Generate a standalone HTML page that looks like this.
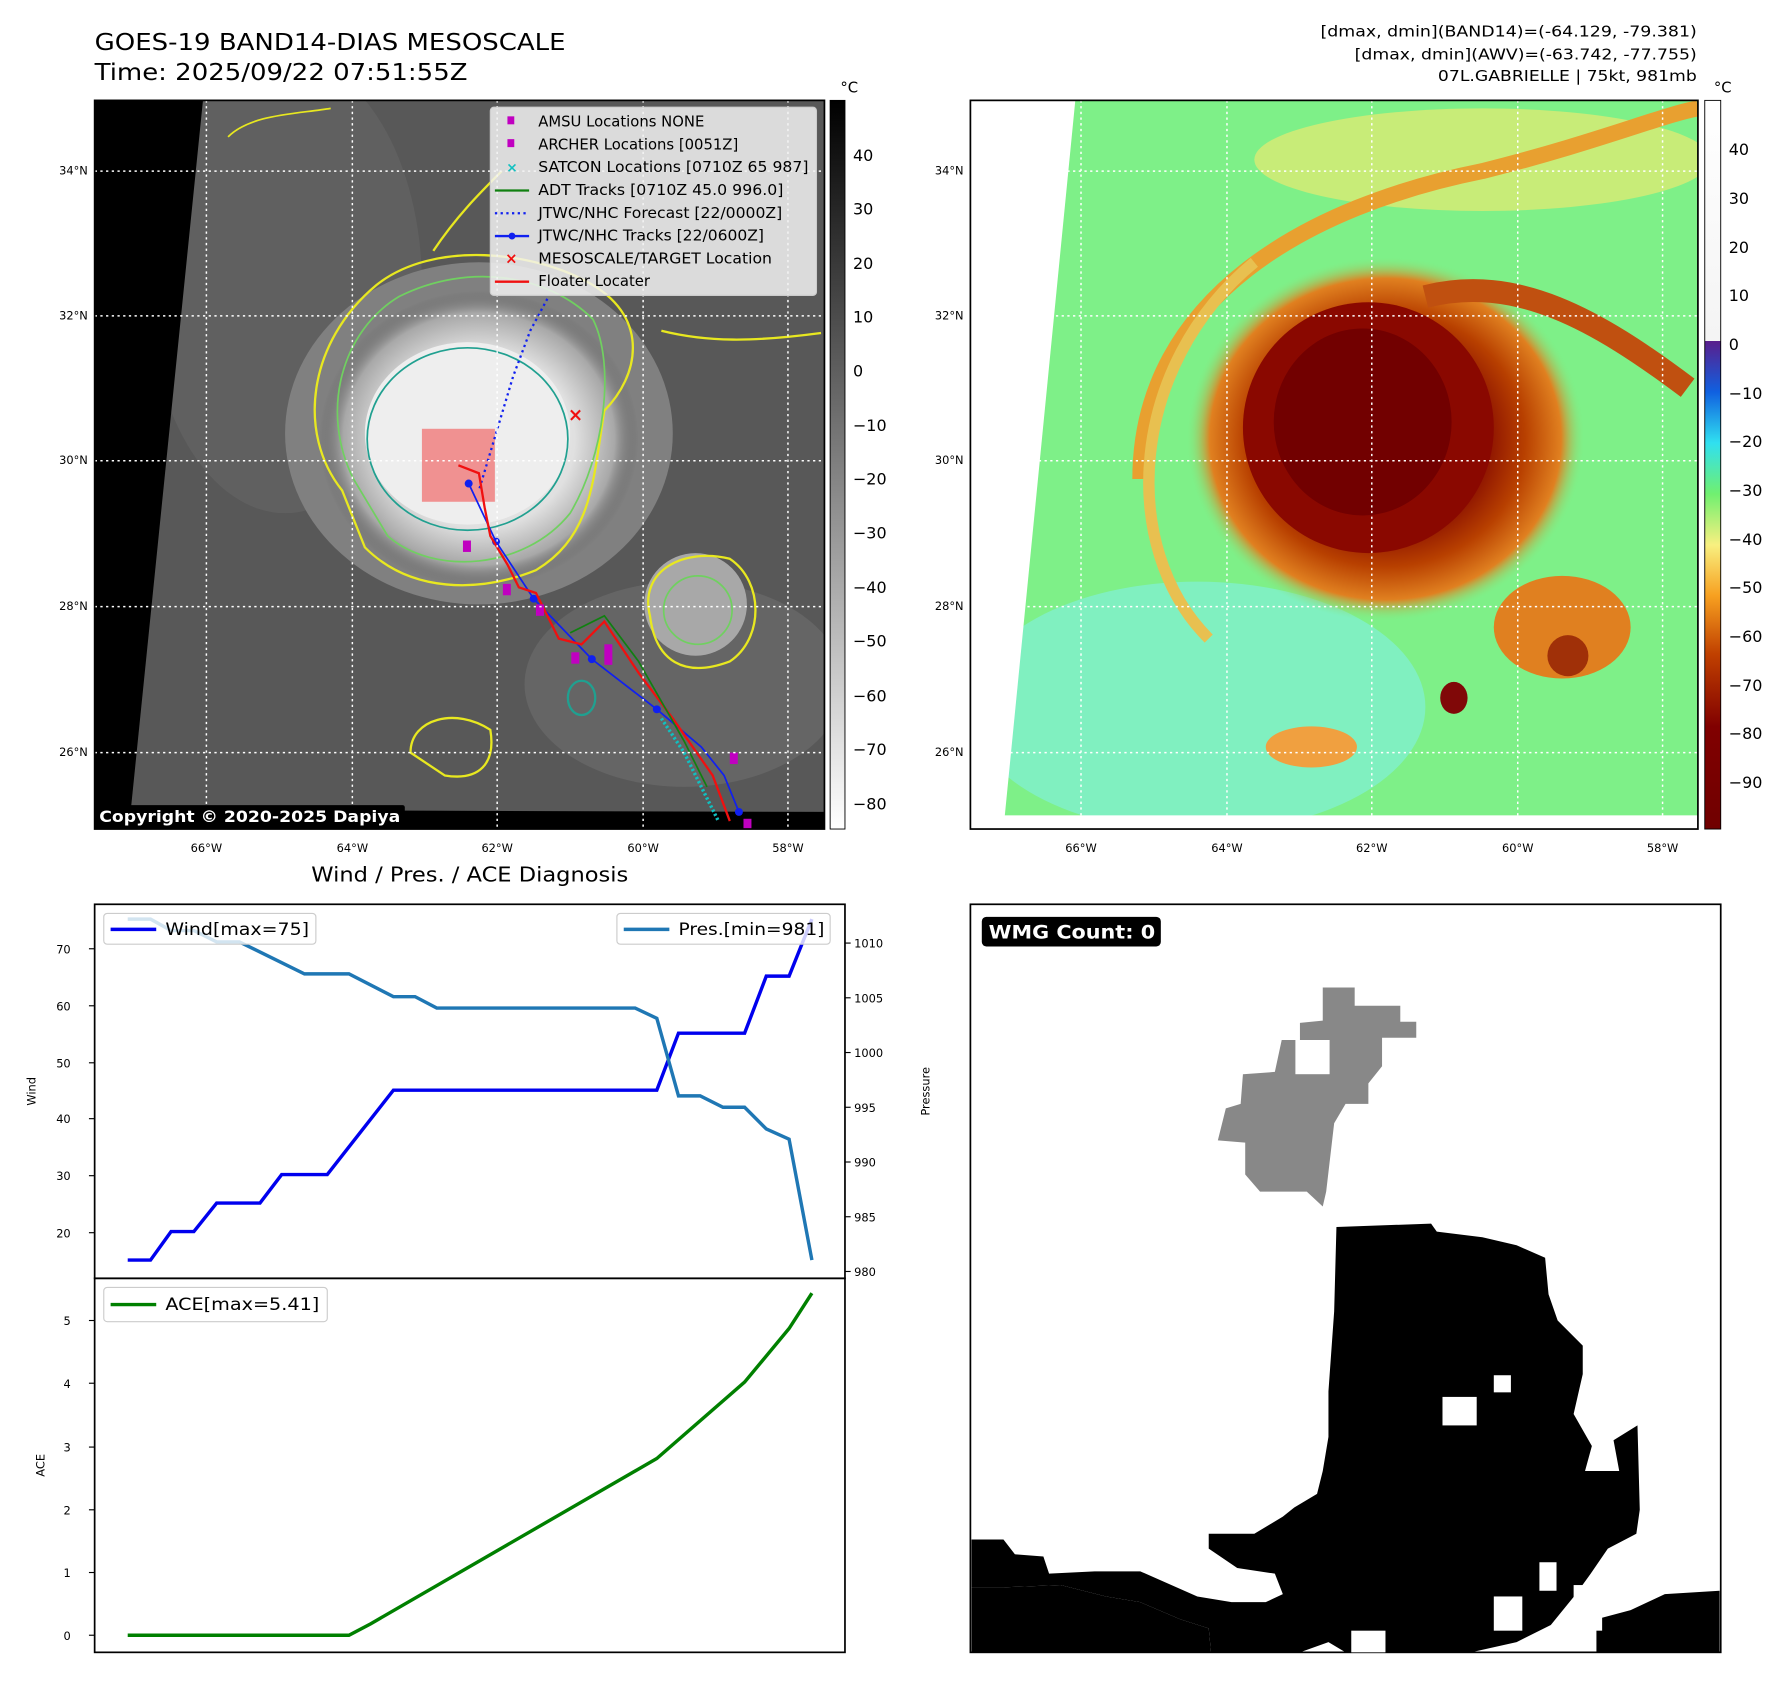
<!DOCTYPE html>
<html><head><meta charset="utf-8"><style>html,body{margin:0;padding:0;background:#fff}svg{display:block}text{font-family:"DejaVu Sans","Liberation Sans",sans-serif}</style></head><body>
<svg width="1788" height="1690" viewBox="0 0 1568 1482" xmlns="http://www.w3.org/2000/svg">
<defs>
<linearGradient id="cb1" x1="0" y1="0" x2="0" y2="1"><stop offset="0" stop-color="#000"/><stop offset="1" stop-color="#fff"/></linearGradient>
<linearGradient id="cb2" x1="0" y1="0" x2="0" y2="1">
<stop offset="0" stop-color="#fff"/><stop offset="0.33" stop-color="#f4f4f4"/><stop offset="0.33" stop-color="#5a1e8c"/>
<stop offset="0.4" stop-color="#1060e0"/><stop offset="0.47" stop-color="#30e0f0"/><stop offset="0.54" stop-color="#70f070"/>
<stop offset="0.61" stop-color="#f8f080"/><stop offset="0.68" stop-color="#f7a020"/><stop offset="0.76" stop-color="#c04000"/>
<stop offset="0.86" stop-color="#800000"/><stop offset="1" stop-color="#700000"/></linearGradient>
<radialGradient id="eyeL" cx="0.5" cy="0.5" r="0.5"><stop offset="0" stop-color="#fafafa"/><stop offset="0.6" stop-color="#e0e0e0"/><stop offset="0.85" stop-color="#a8a8a8"/><stop offset="1" stop-color="#5a5a5a" stop-opacity="0"/></radialGradient>
<radialGradient id="eyeR" cx="0.5" cy="0.5" r="0.5"><stop offset="0" stop-color="#7a0000"/><stop offset="0.5" stop-color="#8a1000"/><stop offset="0.7" stop-color="#b84000"/><stop offset="0.88" stop-color="#e08020"/><stop offset="1" stop-color="#7ef088" stop-opacity="0"/></radialGradient>
<clipPath id="cl"><rect x="83" y="88" width="640" height="639"/></clipPath>
<clipPath id="cr"><rect x="851" y="88" width="638" height="639"/></clipPath>
</defs>
<rect width="1568" height="1482" fill="#fff"/>
<text x="83" y="44" font-size="20" textLength="413" lengthAdjust="spacingAndGlyphs">GOES-19 BAND14-DIAS MESOSCALE</text>
<text x="83" y="70" font-size="20" textLength="327" lengthAdjust="spacingAndGlyphs">Time: 2025/09/22 07:51:55Z</text>
<text x="1158" y="32" font-size="13" textLength="330" lengthAdjust="spacingAndGlyphs">[dmax, dmin](BAND14)=(-64.129, -79.381)</text>
<text x="1188" y="52" font-size="13" textLength="300" lengthAdjust="spacingAndGlyphs">[dmax, dmin](AWV)=(-63.742, -77.755)</text>
<text x="1261" y="71" font-size="13" textLength="227" lengthAdjust="spacingAndGlyphs">07L.GABRIELLE | 75kt, 981mb</text>

<g clip-path="url(#cl)">
<rect x="83" y="88" width="640" height="639" fill="#585858"/>
<ellipse cx="250" cy="250" rx="120" ry="200" fill="#606060"/>
<ellipse cx="600" cy="600" rx="140" ry="90" fill="#656565"/>
<ellipse cx="420" cy="380" rx="170" ry="150" fill="#808080"/>
<ellipse cx="420" cy="385" rx="140" ry="130" fill="url(#eyeL)"/>
<ellipse cx="410" cy="380" rx="90" ry="80" fill="#eeeeee"/>
<ellipse cx="610" cy="530" rx="45" ry="45" fill="#a8a8a8"/>
<polygon points="83,88 178,88 113,727 83,727" fill="#000"/>
<polygon points="83,710 723,712 723,727 83,727" fill="#000"/>
<path d="M300,430 C260,380 270,300 330,250 C380,210 470,220 520,250 C570,280 560,330 530,360 C520,420 520,470 470,500 C420,520 360,520 320,480 Z" fill="none" stroke="#e8e820" stroke-width="2"/>
<path d="M310,420 C280,360 300,290 350,260 C410,230 480,240 520,280 C540,320 530,400 500,450 C460,500 380,505 340,470 Z" fill="none" stroke="#70d060" stroke-width="1.5"/>
<ellipse cx="410" cy="385" rx="88" ry="80" fill="none" stroke="#20a090" stroke-width="1.5"/>
<path d="M380,220 C400,190 420,170 440,150" fill="none" stroke="#e8e820" stroke-width="2"/>
<path d="M200,120 C220,100 260,100 290,95" fill="none" stroke="#e8e820" stroke-width="1.5"/>
<path d="M580,290 C620,300 660,300 720,292" fill="none" stroke="#e8e820" stroke-width="2"/>
<path d="M570,540 C560,500 600,480 640,490 C670,510 670,560 640,580 C600,595 575,580 570,540 Z" fill="none" stroke="#e8e820" stroke-width="2"/>
<ellipse cx="612" cy="535" rx="30" ry="30" fill="none" stroke="#70d060" stroke-width="1.5"/>
<path d="M360,660 C360,630 400,620 430,640 C435,670 420,685 390,680 Z" fill="none" stroke="#e8e820" stroke-width="2"/>
<ellipse cx="510" cy="612" rx="12" ry="15" fill="none" stroke="#20a090" stroke-width="2"/>
<rect x="370" y="376" width="64" height="64" fill="#f08080" opacity="0.85"/>
<polyline points="480,262 465,290 450,330 435,380 420,430" fill="none" stroke="#1020f0" stroke-width="2" stroke-dasharray="2,3"/>
<polyline points="411,424 435,475 468,525 519,578 576,622 615,655 635,680 648,712" fill="none" stroke="#1020f0" stroke-width="1.5"/>
<g fill="#1020f0"><circle cx="411" cy="424" r="3.5"/><circle cx="435" cy="475" r="3.5"/><circle cx="468" cy="525" r="3.5"/><circle cx="519" cy="578" r="3.5"/><circle cx="576" cy="622" r="3.5"/><circle cx="648" cy="712" r="3.5"/></g>
<polyline points="402,408 420,415 425,445 430,470 445,495 455,515 470,520 490,560 510,565 530,545 560,590 590,630 625,680 640,720" fill="none" stroke="#f01010" stroke-width="2"/>
<polyline points="500,555 530,540 560,580 600,650 620,690" fill="none" stroke="#108010" stroke-width="1.5"/>
<polyline points="580,630 600,660 620,700 630,720" fill="none" stroke="#10c0c0" stroke-width="3" stroke-dasharray="2,2"/>
<g fill="#c000c0"><rect x="406" y="474" width="7" height="10"/><rect x="441" y="512" width="7" height="10"/><rect x="470" y="530" width="7" height="10"/><rect x="501" y="572" width="7" height="10"/><rect x="530" y="565" width="7" height="18"/><rect x="640" y="660" width="7" height="10"/><rect x="652" y="718" width="7" height="9"/></g>
<text x="498" y="369" font-size="16" fill="#f01010" font-weight="bold">×</text>
<g stroke="#fff" stroke-width="1.3" stroke-dasharray="2,3">
<line x1="181" y1="88" x2="181" y2="727"/><line x1="309" y1="88" x2="309" y2="727"/><line x1="436" y1="88" x2="436" y2="727"/><line x1="564" y1="88" x2="564" y2="727"/><line x1="691" y1="88" x2="691" y2="727"/>
<line x1="83" y1="150" x2="723" y2="150"/><line x1="83" y1="277" x2="723" y2="277"/><line x1="83" y1="404" x2="723" y2="404"/><line x1="83" y1="532" x2="723" y2="532"/><line x1="83" y1="660" x2="723" y2="660"/>
</g>
<rect x="430" y="94" width="286" height="165" rx="3" fill="#f2f2f2" fill-opacity="0.85" stroke="#ccc"/>
<g font-size="13">
<rect x="445" y="102" width="6" height="7" fill="#c000c0"/><text x="472" y="111">AMSU Locations NONE</text>
<rect x="445" y="122" width="6" height="7" fill="#c000c0"/><text x="472" y="131">ARCHER Locations [0051Z]</text>
<text x="444" y="151" fill="#10c0c0" font-size="12" font-weight="bold">×</text><text x="472" y="151" textLength="237" lengthAdjust="spacingAndGlyphs">SATCON Locations [0710Z 65 987]</text>
<line x1="434" y1="167" x2="464" y2="167" stroke="#108010" stroke-width="2"/><text x="472" y="171" textLength="215" lengthAdjust="spacingAndGlyphs">ADT Tracks [0710Z 45.0 996.0]</text>
<line x1="434" y1="187" x2="464" y2="187" stroke="#1020f0" stroke-width="2" stroke-dasharray="2,3"/><text x="472" y="191" textLength="214" lengthAdjust="spacingAndGlyphs">JTWC/NHC Forecast [22/0000Z]</text>
<line x1="434" y1="207" x2="464" y2="207" stroke="#1020f0" stroke-width="2"/><circle cx="449" cy="207" r="3" fill="#1020f0"/><text x="472" y="211" textLength="198" lengthAdjust="spacingAndGlyphs">JTWC/NHC Tracks [22/0600Z]</text>
<text x="443" y="231" fill="#f01010" font-size="13" font-weight="bold">×</text><text x="472" y="231" textLength="205" lengthAdjust="spacingAndGlyphs">MESOSCALE/TARGET Location</text>
<line x1="434" y1="247" x2="464" y2="247" stroke="#f01010" stroke-width="2"/><text x="472" y="251">Floater Locater</text>
</g>
<rect x="83" y="706" width="272" height="21" rx="2" fill="#000"/>
<text x="87" y="721" font-size="14" font-weight="bold" fill="#fff" textLength="264" lengthAdjust="spacingAndGlyphs">Copyright © 2020-2025 Dapiya</text>
</g>
<rect x="83" y="88" width="640" height="639" fill="none" stroke="#000" stroke-width="1.5"/>
<g font-size="10" text-anchor="middle"><text x="181" y="747">66°W</text><text x="309" y="747">64°W</text><text x="436" y="747">62°W</text><text x="564" y="747">60°W</text><text x="691" y="747">58°W</text>
<text x="948" y="747">66°W</text><text x="1076" y="747">64°W</text><text x="1203" y="747">62°W</text><text x="1331" y="747">60°W</text><text x="1458" y="747">58°W</text></g>
<g font-size="10" text-anchor="end"><text x="77" y="153">34°N</text><text x="77" y="280">32°N</text><text x="77" y="407">30°N</text><text x="77" y="535">28°N</text><text x="77" y="663">26°N</text>
<text x="845" y="153">34°N</text><text x="845" y="280">32°N</text><text x="845" y="407">30°N</text><text x="845" y="535">28°N</text><text x="845" y="663">26°N</text></g>
<rect x="728" y="88" width="13" height="639" fill="url(#cb1)" stroke="#000" stroke-width="0.8"/>
<text x="737" y="81" font-size="13">°C</text>
<g font-size="14"><text x="748" y="141">40</text><text x="748" y="188">30</text><text x="748" y="236">20</text><text x="748" y="283">10</text><text x="748" y="330">0</text><text x="748" y="378">−10</text><text x="748" y="425">−20</text><text x="748" y="472">−30</text><text x="748" y="520">−40</text><text x="748" y="567">−50</text><text x="748" y="615">−60</text><text x="748" y="662">−70</text><text x="748" y="710">−80</text></g>

<g clip-path="url(#cr)">
<rect x="851" y="88" width="638" height="639" fill="#7ef088"/>
<ellipse cx="1050" cy="620" rx="200" ry="110" fill="#80f0c0"/>
<ellipse cx="1300" cy="140" rx="200" ry="45" fill="#c8ec78"/>
<path d="M1000,420 C1000,260 1150,180 1300,150 C1400,125 1460,100 1489,95" fill="none" stroke="#e8a030" stroke-width="14"/>
<path d="M1060,560 C980,480 990,320 1100,230" fill="none" stroke="#e8c050" stroke-width="10"/>
<ellipse cx="1215" cy="385" rx="175" ry="160" fill="url(#eyeR)"/>
<ellipse cx="1200" cy="375" rx="110" ry="110" fill="#8a0800"/>
<ellipse cx="1195" cy="370" rx="78" ry="82" fill="#720000"/>
<path d="M1250,260 C1330,240 1400,280 1480,340" fill="none" stroke="#c05010" stroke-width="20"/>
<ellipse cx="1370" cy="550" rx="60" ry="45" fill="#e08020"/>
<ellipse cx="1375" cy="575" rx="18" ry="18" fill="#a03008"/>
<ellipse cx="1275" cy="612" rx="12" ry="14" fill="#800808"/>
<ellipse cx="1150" cy="655" rx="40" ry="18" fill="#f0a040"/>
<polygon points="851,88 943,88 880,727 851,727" fill="#fff"/>
<g stroke="#fff" stroke-width="1.3" stroke-dasharray="2,3">
<line x1="948" y1="88" x2="948" y2="727"/><line x1="1076" y1="88" x2="1076" y2="727"/><line x1="1203" y1="88" x2="1203" y2="727"/><line x1="1331" y1="88" x2="1331" y2="727"/><line x1="1458" y1="88" x2="1458" y2="727"/>
<line x1="851" y1="150" x2="1489" y2="150"/><line x1="851" y1="277" x2="1489" y2="277"/><line x1="851" y1="404" x2="1489" y2="404"/><line x1="851" y1="532" x2="1489" y2="532"/><line x1="851" y1="660" x2="1489" y2="660"/>
</g>
<rect x="851" y="715" width="638" height="12" fill="#fff"/>
</g>
<rect x="851" y="88" width="638" height="639" fill="none" stroke="#000" stroke-width="1.5"/>
<rect x="1495" y="88" width="14" height="639" fill="url(#cb2)" stroke="#000" stroke-width="0.8"/>
<text x="1503" y="81" font-size="13">°C</text>
<g font-size="14"><text x="1516" y="136">40</text><text x="1516" y="179">30</text><text x="1516" y="222">20</text><text x="1516" y="264">10</text><text x="1516" y="307">0</text><text x="1516" y="350">−10</text><text x="1516" y="392">−20</text><text x="1516" y="435">−30</text><text x="1516" y="478">−40</text><text x="1516" y="520">−50</text><text x="1516" y="563">−60</text><text x="1516" y="606">−70</text><text x="1516" y="648">−80</text><text x="1516" y="691">−90</text></g>

<text x="273" y="773" font-size="18" textLength="278" lengthAdjust="spacingAndGlyphs">Wind / Pres. / ACE Diagnosis</text>
<rect x="83" y="793" width="658" height="328" fill="none" stroke="#000" stroke-width="1.5"/>
<rect x="83" y="1121" width="658" height="328" fill="none" stroke="#000" stroke-width="1.5"/>
<g font-size="10" text-anchor="end"><text x="62" y="836">70</text><text x="62" y="886">60</text><text x="62" y="936">50</text><text x="62" y="985">40</text><text x="62" y="1035">30</text><text x="62" y="1085">20</text>
<text x="62" y="1162">5</text><text x="62" y="1217">4</text><text x="62" y="1273">3</text><text x="62" y="1328">2</text><text x="62" y="1383">1</text><text x="62" y="1438">0</text></g>
<g stroke="#000"><line x1="78" y1="832" x2="83" y2="832"/><line x1="78" y1="882" x2="83" y2="882"/><line x1="78" y1="932" x2="83" y2="932"/><line x1="78" y1="981" x2="83" y2="981"/><line x1="78" y1="1031" x2="83" y2="1031"/><line x1="78" y1="1081" x2="83" y2="1081"/>
<line x1="78" y1="1158" x2="83" y2="1158"/><line x1="78" y1="1213" x2="83" y2="1213"/><line x1="78" y1="1269" x2="83" y2="1269"/><line x1="78" y1="1324" x2="83" y2="1324"/><line x1="78" y1="1379" x2="83" y2="1379"/><line x1="78" y1="1434" x2="83" y2="1434"/>
<line x1="741" y1="827" x2="746" y2="827"/><line x1="741" y1="875" x2="746" y2="875"/><line x1="741" y1="923" x2="746" y2="923"/><line x1="741" y1="971" x2="746" y2="971"/><line x1="741" y1="1019" x2="746" y2="1019"/><line x1="741" y1="1067" x2="746" y2="1067"/><line x1="741" y1="1115" x2="746" y2="1115"/></g>
<g font-size="10"><text x="749" y="831">1010</text><text x="749" y="879">1005</text><text x="749" y="927">1000</text><text x="749" y="975">995</text><text x="749" y="1023">990</text><text x="749" y="1071">985</text><text x="749" y="1119">980</text></g>
<text transform="translate(31,957) rotate(-90)" font-size="10" text-anchor="middle">Wind</text>
<text transform="translate(815,957) rotate(-90)" font-size="10" text-anchor="middle">Pressure</text>
<text transform="translate(39,1285) rotate(-90)" font-size="10" text-anchor="middle">ACE</text>
<polyline points="112,1105 132,1105 150,1080 170,1080 190,1055 228,1055 247,1030 287,1030 345,956 576,956 595,906 653,906 672,856 692,856 712,806" fill="none" stroke="#0000ee" stroke-width="3"/>
<polyline points="112,806 132,806 150,816 170,816 190,826 210,826 267,854 306,854 345,874 364,874 383,884 557,884 576,893 595,961 614,961 634,971 653,971 672,990 692,999 712,1105" fill="none" stroke="#1f77b4" stroke-width="3"/>
<polyline points="112,1434 306,1434 325,1424 576,1279 653,1212 692,1165 712,1134" fill="none" stroke="#008000" stroke-width="3"/>
<rect x="91" y="801" width="186" height="27" rx="3" fill="#fff" fill-opacity="0.8" stroke="#ccc"/>
<line x1="97" y1="815" x2="137" y2="815" stroke="#0000ee" stroke-width="3"/><text x="145" y="820" font-size="15" textLength="126" lengthAdjust="spacingAndGlyphs">Wind[max=75]</text>
<rect x="541" y="801" width="187" height="27" rx="3" fill="#fff" fill-opacity="0.8" stroke="#ccc"/>
<line x1="547" y1="815" x2="587" y2="815" stroke="#1f77b4" stroke-width="3"/><text x="595" y="820" font-size="15" textLength="128" lengthAdjust="spacingAndGlyphs">Pres.[min=981]</text>
<rect x="91" y="1129" width="196" height="30" rx="3" fill="#fff" fill-opacity="0.8" stroke="#ccc"/>
<line x1="97" y1="1144" x2="137" y2="1144" stroke="#008000" stroke-width="3"/><text x="145" y="1149" font-size="15" textLength="135" lengthAdjust="spacingAndGlyphs">ACE[max=5.41]</text>

<rect x="851" y="793" width="658" height="656" fill="#fff" stroke="#000" stroke-width="1.5"/>
<polygon points="1160,866 1188,866 1188,882 1228,882 1228,896 1242,896 1242,910 1212,910 1212,935 1200,950 1200,968 1180,968 1170,985 1163,1045 1160,1058 1146,1045 1105,1045 1092,1030 1092,1002 1068,1000 1075,972 1088,968 1090,942 1118,940 1124,912 1140,912 1140,897 1160,895" fill="#888"/>
<rect x="1136" y="912" width="30" height="30" fill="#fff"/>
<polygon points="1172,1076 1255,1073 1260,1080 1300,1085 1330,1092 1355,1103 1358,1135 1366,1158 1388,1180 1388,1205 1380,1240 1396,1268 1390,1290 1420,1290 1415,1263 1436,1250 1438,1324 1435,1345 1410,1358 1395,1380 1382,1398 1360,1425 1330,1440 1290,1449 1180,1449 1165,1440 1140,1449 1062,1449 1060,1428 1035,1420 1000,1405 970,1400 930,1390 880,1392 852,1392 852,1350 880,1350 890,1363 915,1365 920,1380 960,1378 1000,1378 1050,1400 1080,1405 1110,1405 1125,1398 1118,1380 1085,1375 1060,1358 1060,1345 1100,1345 1125,1330 1135,1322 1155,1310 1160,1290 1165,1260 1165,1220 1170,1150" fill="#000"/>
<polygon points="852,1392 880,1392 930,1390 970,1400 1000,1405 1035,1420 1060,1428 1062,1449 852,1449" fill="#000"/>
<polygon points="1400,1449 1400,1420 1430,1412 1460,1398 1508,1395 1508,1449" fill="#000"/>
<rect x="1265" y="1225" width="30" height="25" fill="#fff"/><rect x="1310" y="1206" width="15" height="15" fill="#fff"/>
<rect x="1310" y="1400" width="25" height="30" fill="#fff"/><rect x="1380" y="1390" width="25" height="40" fill="#fff"/>
<rect x="1185" y="1430" width="30" height="19" fill="#fff"/><rect x="1350" y="1370" width="15" height="25" fill="#fff"/>
<rect x="861" y="804" width="157" height="26" rx="4" fill="#000"/>
<text x="867" y="823" font-size="16" font-weight="bold" fill="#fff" textLength="146" lengthAdjust="spacingAndGlyphs">WMG Count: 0</text>
</svg>
</body></html>
